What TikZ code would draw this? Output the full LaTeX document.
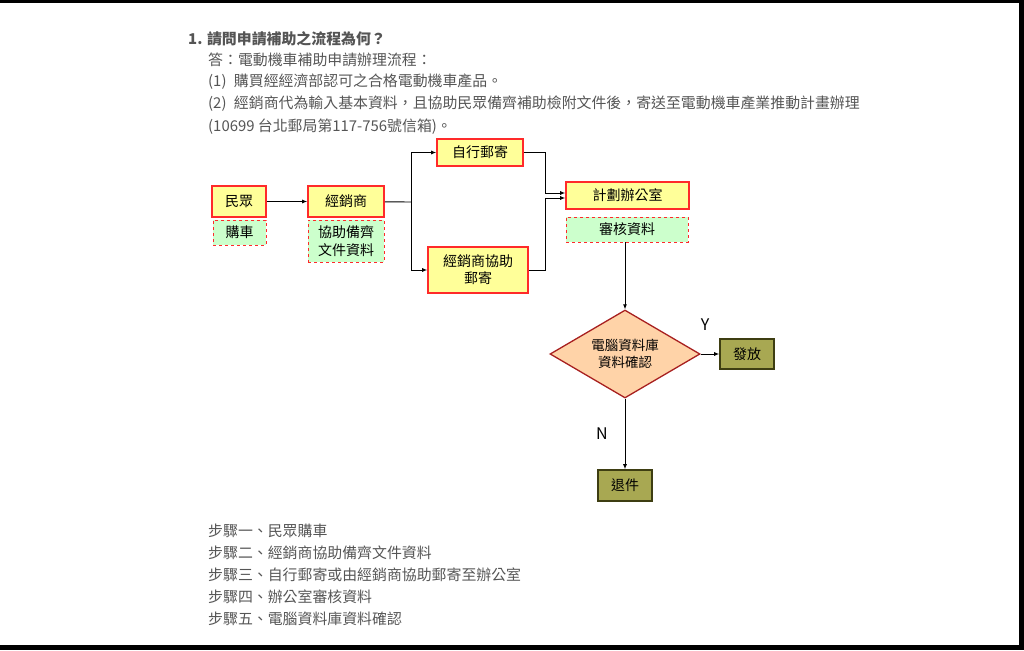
\documentclass[tikz,border=0pt]{standalone}
\usepackage{fontspec}
\setmainfont{Noto Sans CJK TC}
\usetikzlibrary{shapes.geometric,arrows.meta}
\definecolor{boxred}{HTML}{FF2A2A}
\definecolor{boxyel}{HTML}{FFFF99}
\definecolor{boxgrn}{HTML}{CCFFCC}
\definecolor{dmfill}{HTML}{FFD3A8}
\definecolor{dmline}{HTML}{A82020}
\definecolor{olfill}{HTML}{A8A852}
\definecolor{olline}{HTML}{3E3E12}
\definecolor{txtg}{HTML}{555555}
\tikzset{
  x=1pt,y=-1pt,
  ybox/.style={draw=boxred,line width=1.6pt,fill=boxyel,inner sep=0,font=\fontsize{14}{17}\selectfont,align=center},
  gbox/.style={draw=boxred,dashed,line width=0.8pt,fill=boxgrn,inner sep=0,font=\fontsize{14}{18}\selectfont,align=center},
  obox/.style={draw=olline,line width=1.6pt,fill=olfill,inner sep=0,font=\fontsize{14}{16}\selectfont},
  txt/.style={anchor=west,text=txtg,font=\fontsize{14.9}{16}\selectfont,inner sep=0},
  arr/.style={-{Latex[length=5pt,width=4pt]},line width=0.9pt},
  ln/.style={line width=0.9pt}
}
\begin{document}
\begin{tikzpicture}
\useasboundingbox (0,0) rectangle (1024,650);
\fill[black] (1019,0) rectangle (1024,650);
\fill[black] (0,645) rectangle (1024,650);
\fill[black] (0,0) rectangle (1024,3);
\node[txt,font=\fontsize{14.9}{16}\selectfont\bfseries] (t0) at (188,39) {1. 請問申請補助之流程為何？};
\node[txt] (t1) at (208,60) {答：電動機車補助申請辦理流程：};
\node[txt] (t2) at (208,82) {(1)\enspace 購買經經濟部認可之合格電動機車產品。};
\node[txt] (t3) at (208,104) {(2)\enspace 經銷商代為輸入基本資料，且協助民眾備齊補助檢附文件後，寄送至電動機車產業推動計畫辦理};
\node[txt] (t4) at (208,127) {(10699 台北郵局第117-756號信箱)。};
\node[ybox,minimum width=54,minimum height=31] (a) at (239,201.5) {民眾};
\node[gbox,minimum width=53,minimum height=25] (a2) at (239.5,232.5) {購車};
\node[ybox,minimum width=76,minimum height=31] (b) at (346,201.5) {經銷商};
\node[gbox,minimum width=76,minimum height=42] (b2) at (346,241) {協助備齊\\文件資料};
\node[ybox,minimum width=86,minimum height=27] (c) at (480,152.5) {自行郵寄};
\node[ybox,minimum width=100,minimum height=46] (d) at (478,270) {經銷商協助\\郵寄};
\node[ybox,minimum width=123,minimum height=27] (e) at (627.5,195.5) {計劃辦公室};
\node[gbox,minimum width=122,minimum height=25] (e2) at (627,229.5) {審核資料};
\node[diamond,draw=dmline,line width=1.3pt,fill=dmfill,minimum width=150,minimum height=88,inner sep=0,aspect=1.7,font=\fontsize{13.5}{17}\selectfont,align=center] (f) at (625,354) {電腦資料庫\\資料確認};
\node[obox,minimum width=54,minimum height=30] (g) at (747,354) {發放};
\node[obox,minimum width=54,minimum height=31] (h) at (625,485.5) {退件};
\node[font=\fontsize{16}{18}\selectfont,inner sep=0] (ly) at (705,325) {Y};
\node[font=\fontsize{16}{18}\selectfont,inner sep=0] (ln) at (602,434) {N};
\coordinate (j) at (411,202);
\draw[arr] (a) -- (b);
\draw[ln] (b) -- (j);
\draw[arr] (j) |- (c.west);
\draw[arr] (j) |- (d.west);
\draw[arr] (c.east) -- (545,152.5) |- (e.west |- 0,193);
\draw[arr] (d.east) -- (545,270) |- (e.west |- 0,198);
\draw[arr] (e2.south -| f.north) -- (f.north);
\draw[arr] (f.east) -- (g.west);
\draw[arr] (f.south) -- (h.north);
\node[txt] (s1) at (208,531) {步驟一、民眾購車};
\node[txt] (s2) at (208,553) {步驟二、經銷商協助備齊文件資料};
\node[txt] (s3) at (208,575) {步驟三、自行郵寄或由經銷商協助郵寄至辦公室};
\node[txt] (s4) at (208,597) {步驟四、辦公室審核資料};
\node[txt] (s5) at (208,619) {步驟五、電腦資料庫資料確認};
\end{tikzpicture}
\end{document}
